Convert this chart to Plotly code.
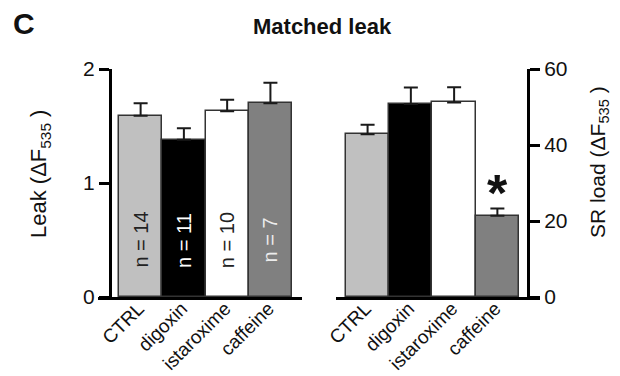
import plotly.graph_objects as go

categories = ["CTRL", "digoxin", "istaroxime", "caffeine"]
leak_mean = [1.59, 1.38, 1.63, 1.70]
leak_sem = [0.11, 0.10, 0.10, 0.18]
load_mean = [42.8, 50.8, 51.2, 21.4]
load_sem = [2.5, 4.3, 4.0, 1.9]
n_labels = ["n = 14", "n = 11", "n = 10", "n = 7"]
n_colors = ["#222222", "#ffffff", "#222222", "#ececec"]
bar_colors = ["#c0c0c0", "#000000", "#ffffff", "#808080"]
leak_ticks = [0, 1, 2]
load_ticks = [0, 20, 40, 60]

W, H = 620, 376
FONT = "Liberation Sans, Arial, sans-serif"
xpos = list(range(len(categories)))

def px(x):
    return x / W

def py(y):
    return 1 - y / H

fig = go.Figure()
err_style = dict(type="data", symmetric=False, color="#1a1a1a", thickness=2, width=7)
fig.add_trace(go.Bar(
    x=xpos, y=leak_mean, width=1.0,
    marker=dict(color=bar_colors, line=dict(color="#333333", width=1.5)),
    error_y=dict(array=leak_sem, arrayminus=[0] * 4, **err_style),
    xaxis="x", yaxis="y", showlegend=False, hoverinfo="skip"))
fig.add_trace(go.Bar(
    x=xpos, y=load_mean, width=1.0,
    marker=dict(color=bar_colors, line=dict(color="#333333", width=1.5)),
    error_y=dict(array=load_sem, arrayminus=[0] * 4, **err_style),
    xaxis="x2", yaxis="y2", showlegend=False, hoverinfo="skip"))

ydom = [py(297), py(69)]
axis_common = dict(showgrid=False, zeroline=False, showline=True, linecolor="#000000",
                   linewidth=3, automargin=False)
xlab = dict(tickvals=xpos, ticktext=categories, tickangle=-45, ticks="",
            tickfont=dict(size=19), ticklabelstandoff=-10, ticklabelshift=-2)
fig.update_layout(
    template="none",
    width=W, height=H, margin=dict(l=0, r=0, t=0, b=0, autoexpand=False),
    paper_bgcolor="white", plot_bgcolor="rgba(0,0,0,0)",
    font=dict(family=FONT, color="#111111"),
    bargap=0,
    xaxis=dict(domain=[px(98), px(302)], range=[-0.985, 3.73], anchor="y",
               **xlab, **axis_common),
    yaxis=dict(domain=ydom, range=[0, 2], anchor="free", position=px(110),
               tickvals=leak_ticks, ticks="outside", ticklen=10, tickwidth=3,
               tickcolor="#000000", tickfont=dict(size=21), **axis_common),
    xaxis2=dict(domain=[px(336), px(540)], range=[-0.73, 3.985], anchor="y2",
                **xlab, **axis_common),
    yaxis2=dict(domain=ydom, range=[0, 60], anchor="free", position=px(528), side="right",
                tickvals=load_ticks, ticks="outside", ticklen=10, tickwidth=3,
                tickcolor="#000000", tickfont=dict(size=21), **axis_common),
)

annotations = []
for i, (lab, col) in enumerate(zip(n_labels, n_colors)):
    annotations.append(dict(x=i, y=0.5, xref="x", yref="y", text=lab, textangle=-90,
                            showarrow=False, font=dict(size=20, color=col)))
annotations.append(dict(x=3, y=27.5, xref="x2", yref="y2", text="<b>*</b>", showarrow=False,
                        font=dict(size=52, color="#111111")))
annotations += [
    dict(x=px(24), y=py(23), xref="paper", yref="paper", text="<b>C</b>", showarrow=False,
         font=dict(size=30, color="#111111"), xanchor="center", yanchor="middle"),
    dict(x=px(322), y=py(27), xref="paper", yref="paper", text="<b>Matched leak</b>", showarrow=False,
         font=dict(size=22, color="#111111"), xanchor="center", yanchor="middle"),
    dict(x=px(40), y=py(174), xref="paper", yref="paper", text="Leak (ΔF<sub>535</sub> )",
         textangle=-90, showarrow=False, font=dict(size=22, color="#111111"),
         xanchor="center", yanchor="middle"),
    dict(x=px(599), y=py(162), xref="paper", yref="paper", text="SR load (ΔF<sub>535</sub> )",
         textangle=-90, showarrow=False, font=dict(size=21, color="#111111"),
         xanchor="center", yanchor="middle"),
]
fig.update_layout(annotations=annotations)

fig.write_html("out.html", config={"displayModeBar": False},
               post_script="document.body.style.margin='0';")
